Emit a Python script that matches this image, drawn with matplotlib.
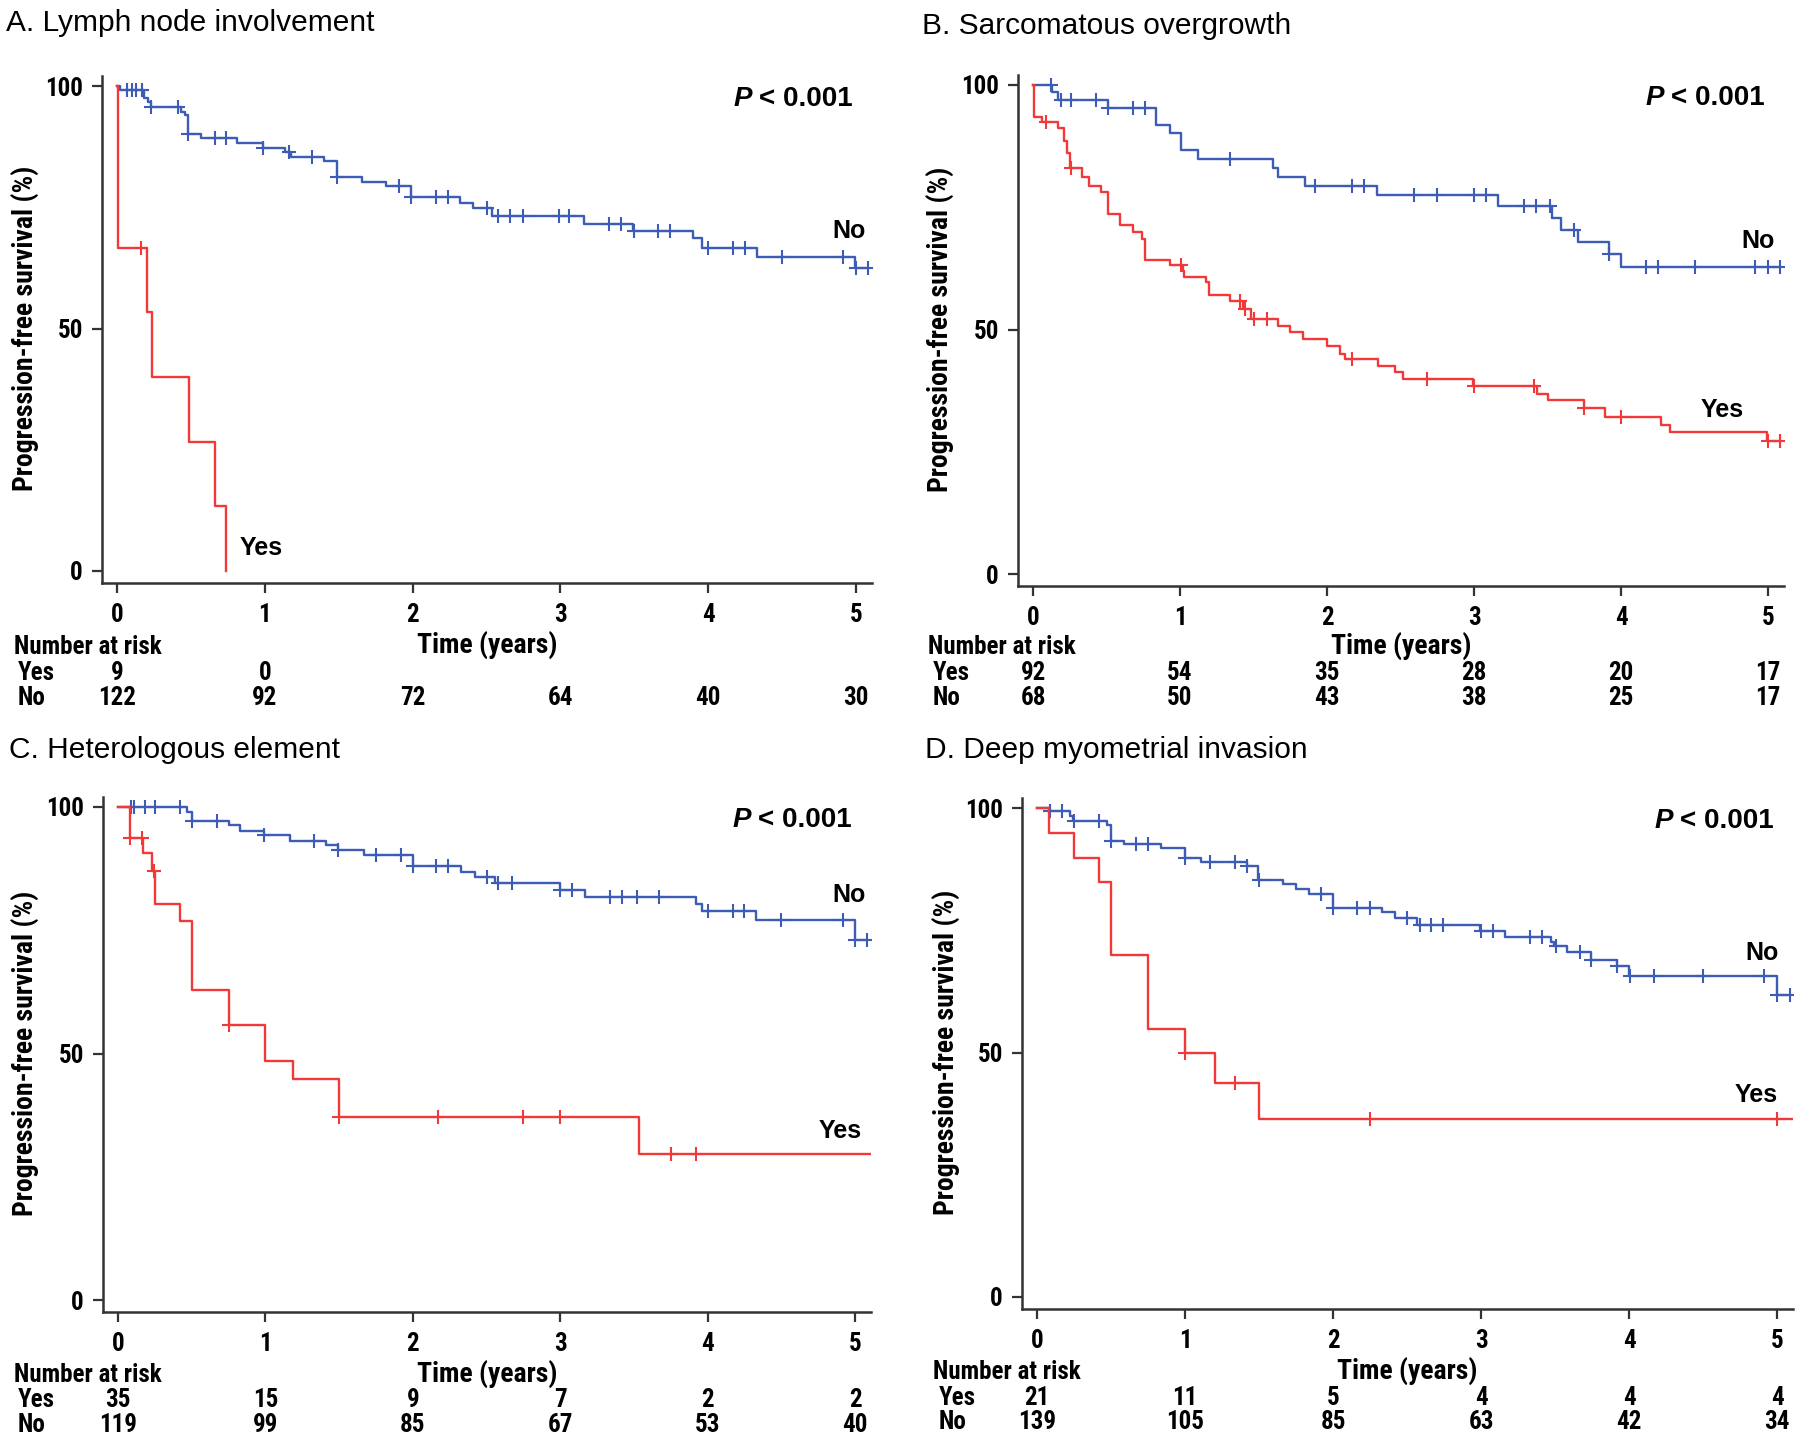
import numpy as np
import matplotlib
matplotlib.use('Agg')
import matplotlib.pyplot as plt
from matplotlib.transforms import blended_transform_factory as blend

W, H = 1800, 1435
BLUE = '#3d5cb5'
RED = '#f2393a'
NARROW = ['Roboto Condensed', 'DejaVu Sans']
REGULAR = ['Liberation Sans', 'DejaVu Sans']
plt.rcParams['font.family'] = REGULAR

# ---- data ----
titles = ['A. Lymph node involvement', 'B. Sarcomatous overgrowth',
          'C. Heterologous element', 'D. Deep myometrial invasion']
risk_times = [0, 1, 2, 3, 4, 5]

# A. lymph node involvement
a_yes_t = [0.01, 0.20, 0.235, 0.49, 0.66, 0.74]
a_yes_s = [66.7, 53.3, 40.0, 26.7, 13.3, 0.0]
a_yes_c = [0.16]
a_yes_end = 0.74
a_no_t = [0.02, 0.18, 0.21, 0.23, 0.43, 0.46, 0.48, 0.57, 0.815, 0.985, 1.14, 1.18, 1.40,
          1.49, 1.66, 1.82, 1.99, 2.32, 2.41, 2.54, 3.16, 3.49, 3.90, 3.96, 4.33, 4.99]
a_no_s = [99.2, 97.6, 96.7, 95.7, 94.7, 94.0, 90.2, 89.2, 88.3, 87.3, 86.4, 85.4, 84.5,
          81.3, 80.3, 79.3, 77.2, 75.8, 74.8, 73.2, 71.6, 70.0, 68.6, 66.7, 64.7, 62.5]
a_no_c = [0.07, 0.10, 0.13, 0.17, 0.23, 0.41, 0.48, 0.66, 0.74, 0.985, 1.165, 1.32, 1.49,
          1.91, 1.99, 2.16, 2.24, 2.50, 2.58, 2.66, 2.75, 2.99, 3.06, 3.33, 3.41, 3.50,
          3.66, 3.74, 4.0, 4.17, 4.25, 4.50, 4.91, 5.0, 5.08]
a_no_end = 5.08
a_risk_yes = [9, 0, None, None, None, None]
a_risk_no = [122, 92, 72, 64, 40, 30]

# B. sarcomatous overgrowth
b_yes_t = [0.01, 0.06, 0.17, 0.21, 0.23, 0.25, 0.33, 0.38, 0.46, 0.51, 0.59, 0.68, 0.74,
           0.76, 0.93, 1.02, 1.03, 1.18, 1.20, 1.34, 1.43, 1.48, 1.67, 1.75, 1.84, 2.0,
           2.09, 2.12, 2.35, 2.46, 2.52, 2.99, 3.43, 3.50, 3.75, 3.89, 4.27, 4.33, 4.99]
b_yes_s = [93.5, 92.4, 91.3, 88.5, 86.0, 83.0, 81.2, 79.3, 78.1, 73.6, 71.3, 69.9, 68.5,
           64.3, 63.1, 61.9, 60.7, 59.7, 57.0, 55.9, 54.2, 52.2, 50.8, 49.4, 48.1, 46.7,
           45.0, 44.0, 42.6, 41.3, 39.9, 38.5, 36.9, 35.5, 34.0, 32.2, 30.5, 29.0, 27.3]
b_yes_c = [0.09, 0.26, 1.01, 1.41, 1.44, 1.50, 1.59, 2.17, 2.68, 3.0, 3.41, 3.75, 4.0,
           5.0, 5.08]
b_yes_end = 5.08
b_no_t = [0.13, 0.17, 0.51, 0.84, 0.93, 1.01, 1.12, 1.63, 1.67, 1.85, 2.34, 3.16, 3.53,
          3.59, 3.71, 3.92, 4.0]
b_no_s = [98.5, 97.0, 95.2, 91.8, 90.1, 86.7, 84.8, 83.1, 81.2, 79.3, 77.5, 75.3, 72.7,
          70.3, 67.9, 65.5, 62.8]
b_no_c = [0.12, 0.19, 0.26, 0.43, 0.51, 0.68, 0.76, 1.34, 1.92, 2.17, 2.25, 2.59, 2.75,
          3.0, 3.08, 3.34, 3.42, 3.52, 3.68, 3.92, 4.17, 4.25, 4.50, 4.91, 5.0, 5.08]
b_no_end = 5.08
b_risk_yes = [92, 54, 35, 28, 20, 17]
b_risk_no = [68, 50, 43, 38, 25, 17]

# C. heterologous element
c_yes_t = [0.083, 0.17, 0.23, 0.25, 0.42, 0.50, 0.75, 1.0, 1.19, 1.50, 3.535]
c_yes_s = [93.7, 90.6, 87.1, 80.3, 76.9, 62.9, 55.8, 48.4, 44.8, 37.2, 29.7]
c_yes_c = [0.083, 0.165, 0.247, 0.75, 1.50, 2.17, 2.75, 3.0, 3.75, 3.92]
c_yes_end = 5.1
c_no_t = [0.466, 0.50, 0.75, 0.83, 0.99, 1.17, 1.41, 1.49, 1.67, 2.0, 2.33, 2.42, 2.56,
          3.0, 3.17, 3.92, 3.96, 4.33, 5.0]
c_no_s = [99.0, 97.2, 96.4, 95.2, 94.4, 93.2, 92.3, 91.3, 90.2, 88.0, 86.9, 85.7, 84.5,
          83.1, 81.8, 80.3, 78.9, 77.1, 73.1]
c_no_c = [0.09, 0.106, 0.18, 0.25, 0.42, 0.50, 0.67, 0.99, 1.33, 1.49, 1.75, 1.92, 2.0,
          2.16, 2.24, 2.50, 2.58, 2.67, 3.0, 3.08, 3.34, 3.42, 3.52, 3.67, 4.0, 4.17,
          4.25, 4.50, 4.92, 5.0, 5.08]
c_no_end = 5.08
c_risk_yes = [35, 15, 9, 7, 2, 2]
c_risk_no = [119, 99, 85, 67, 53, 40]

# D. deep myometrial invasion
d_yes_t = [0.083, 0.25, 0.42, 0.50, 0.75, 1.0, 1.2, 1.5]
d_yes_s = [94.9, 89.8, 84.9, 69.9, 54.9, 49.9, 43.7, 36.3]
d_yes_c = [1.0, 1.34, 2.25, 5.0]
d_yes_end = 5.11
d_no_t = [0.09, 0.22, 0.24, 0.47, 0.50, 0.59, 0.84, 1.0, 1.11, 1.42, 1.49, 1.66, 1.75,
          1.84, 2.0, 2.33, 2.42, 2.57, 2.99, 3.16, 3.47, 3.49, 3.58, 3.74, 3.92, 4.0, 5.0]
d_no_s = [99.3, 98.4, 97.4, 96.6, 93.3, 92.6, 91.8, 89.8, 88.9, 88.2, 85.2, 84.5, 83.5,
          82.5, 79.6, 78.7, 77.5, 76.1, 74.9, 73.6, 72.5, 71.8, 70.6, 69.0, 67.6, 65.7, 61.8]
d_no_c = [0.09, 0.17, 0.25, 0.42, 0.50, 0.67, 0.75, 1.0, 1.17, 1.34, 1.42, 1.50, 1.92,
          2.0, 2.16, 2.25, 2.50, 2.59, 2.66, 2.74, 3.0, 3.08, 3.33, 3.41, 3.51, 3.67,
          3.74, 3.92, 4.01, 4.17, 4.50, 4.91, 5.0, 5.09]
d_no_end = 5.09
d_risk_yes = [21, 11, 5, 4, 4, 4]
d_risk_no = [139, 105, 85, 63, 42, 34]

# ---- layout (pixel anchors of year 0 / year 5 and 0% / 100%) ----
anchors = [(117, 856, 571, 86), (1033, 1768, 574, 85),
           (118, 855, 1300, 807), (1037, 1777, 1297, 808)]
XLIM = (-0.1, 5.11)
YLIM = (-2.5, 102)
title_pos = [(6, 23), (922, 26), (9, 750), (925, 750)]
ylabel_x = [25, 940, 25, 946]
label_x = [(14, 18), (928, 933), (14, 18), (933, 939)]
table_y = [(645, 647, 673, 698), (646, 647, 673, 698),
           (1374, 1375, 1400, 1425), (1371, 1372, 1398, 1422)]
no_lab = [(4.95, 70), (4.93, 68), (4.96, 82.2), (4.9, 70.3)]
yes_lab = [(0.975, 4.7), (4.69, 33.6), (4.90, 34.3), (4.86, 41.3)]

panels = [
    (a_yes_t, a_yes_s, a_yes_c, a_yes_end, a_no_t, a_no_s, a_no_c, a_no_end, a_risk_yes, a_risk_no),
    (b_yes_t, b_yes_s, b_yes_c, b_yes_end, b_no_t, b_no_s, b_no_c, b_no_end, b_risk_yes, b_risk_no),
    (c_yes_t, c_yes_s, c_yes_c, c_yes_end, c_no_t, c_no_s, c_no_c, c_no_end, c_risk_yes, c_risk_no),
    (d_yes_t, d_yes_s, d_yes_c, d_yes_end, d_no_t, d_no_s, d_no_c, d_no_end, d_risk_yes, d_risk_no),
]


def km_xy(times, surv, end):
    x = np.concatenate([[0.0], times, [end]])
    y = np.concatenate([[100.0], surv, [surv[-1]]])
    return x, y


def surv_at(times, surv, t):
    idx = np.searchsorted(np.asarray(times), np.asarray(t), side='right')
    vals = np.concatenate([[100.0], surv])
    return vals[idx]


def rect(x0, x5, y0, y100):
    ppx = (x5 - x0) / 5.0
    ppy = (y0 - y100) / 100.0
    left = x0 + XLIM[0] * ppx
    right = x0 + XLIM[1] * ppx
    bottom = y0 - YLIM[0] * ppy
    top = y0 - YLIM[1] * ppy
    return [left / W, 1 - bottom / H, (right - left) / W, (bottom - top) / H]


fig = plt.figure(figsize=(W / 100, H / 100), dpi=100)

for i, p in enumerate(panels):
    yt, ys, yc, yend, nt, ns, nc, nend, ryes, rno = p
    ax = fig.add_axes(rect(*anchors[i]))

    for t, s, c, end, col in [(nt, ns, nc, nend, BLUE), (yt, ys, yc, yend, RED)]:
        x, y = km_xy(t, s, end)
        ax.plot(x, y, drawstyle='steps-post', color=col, lw=1.7)
        ax.plot(c, surv_at(t, s, c), ls='none', marker='+', ms=10, mew=1.5, color=col)

    ax.set_xlim(*XLIM)
    ax.set_ylim(*YLIM)
    for sp in ['top', 'right']:
        ax.spines[sp].set_visible(False)
    for sp in ['left', 'bottom']:
        ax.spines[sp].set_linewidth(1.8)
        ax.spines[sp].set_color('#333333')
    ax.set_xticks(risk_times)
    ax.set_yticks([0, 50, 100])
    ax.tick_params(direction='out', length=7, width=1.6, color='#333333', labelsize=18, pad=7)
    for lbl in ax.get_xticklabels() + ax.get_yticklabels():
        lbl.set_fontfamily(NARROW)
        lbl.set_fontweight('bold')

    # P value
    ptxt = ax.text(4.98, 97.3, '< 0.001', ha='right', va='center', fontsize=20,
                   fontweight='bold')
    ax.annotate('P', xy=(0, 0.5), xycoords=ptxt, xytext=(-5, 0), textcoords='offset points',
                ha='right', va='center', fontsize=20, fontweight='bold', fontstyle='italic')

    ax.text(*no_lab[i], 'No', ha='center', va='center', fontsize=18, fontweight='bold')
    ax.text(*yes_lab[i], 'Yes', ha='center', va='center', fontsize=18, fontweight='bold')

    # titles and y label
    tx, ty = title_pos[i]
    fig.text(tx / W, 1 - ty / H, titles[i], ha='left', va='center', fontsize=21.5)
    x0, x5, y0, y100 = anchors[i]
    fig.text(ylabel_x[i] / W, 1 - (y0 + y100) / 2 / H, 'Progression-free survival (%)',
             rotation=90, ha='center', va='center', fontsize=20, fontweight='bold',
             family=NARROW)

    # number at risk table
    ty_time, ty_nar, ty_yes, ty_no = table_y[i]
    tr = blend(ax.transAxes, fig.transFigure)
    ax.text(0.5, 1 - ty_time / H, 'Time (years)', transform=tr, ha='center', va='center',
            fontsize=20, fontweight='bold', family=NARROW)
    lx1, lx2 = label_x[i]
    fig.text(lx1 / W, 1 - ty_nar / H, 'Number at risk', ha='left', va='center',
             fontsize=18, fontweight='bold', family=NARROW)
    fig.text(lx2 / W, 1 - ty_yes / H, 'Yes', ha='left', va='center',
             fontsize=18, fontweight='bold', family=NARROW)
    fig.text(lx2 / W, 1 - ty_no / H, 'No', ha='left', va='center',
             fontsize=18, fontweight='bold', family=NARROW)
    trd = blend(ax.transData, fig.transFigure)
    for t, vy, vn in zip(risk_times, ryes, rno):
        if vy is not None:
            ax.text(t, 1 - ty_yes / H, str(vy), transform=trd, ha='center', va='center',
                    fontsize=18, fontweight='bold', family=NARROW)
        ax.text(t, 1 - ty_no / H, str(vn), transform=trd, ha='center', va='center',
                fontsize=18, fontweight='bold', family=NARROW)

fig.savefig('out.png', dpi=100)
